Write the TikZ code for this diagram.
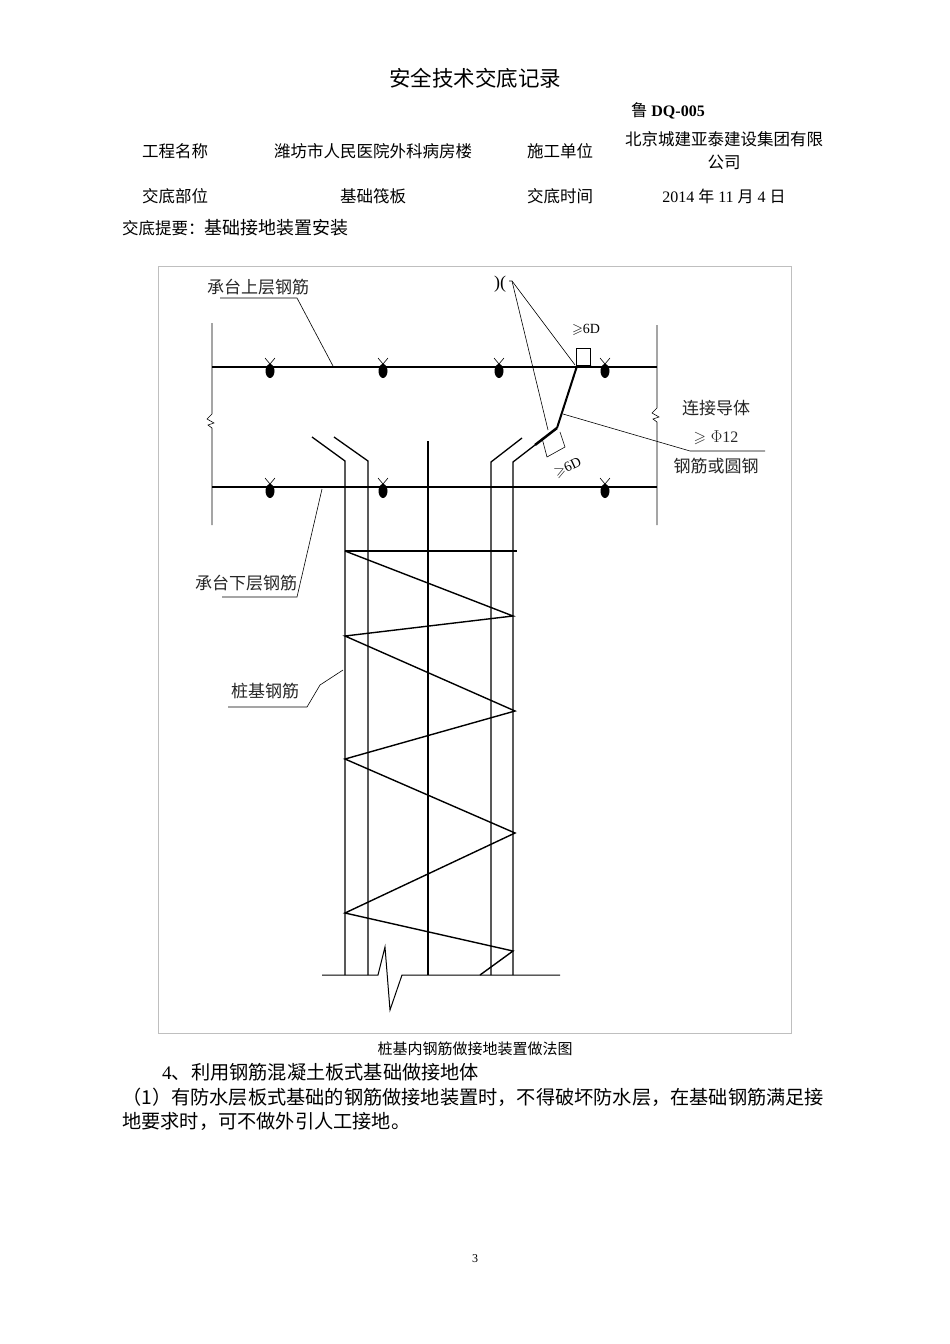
\documentclass[tikz,border=0pt]{standalone}
\usepackage{amssymb}
\usepackage{fontspec}
\setmainfont{Liberation Serif}
\newfontfamily\cjk{Noto Sans CJK SC}
\begin{document}
\begin{tikzpicture}[x=1pt,y=-1pt,
  bar/.style={line width=1.6pt},
  thin/.style={line width=0.6pt},
  dlab/.style={font=\cjk\fontsize{17}{19}\selectfont,inner sep=0pt,text=black!85},
  txt/.style={font=\cjk\fontsize{16.5}{18}\selectfont,inner sep=0pt},
  para/.style={font=\cjk\fontsize{19.2}{21}\selectfont,inner sep=0pt,anchor=west}]
\useasboundingbox (0,0) rectangle (950,1344);
\fill[white] (0,0) rectangle (950,1344);
% header
\node[txt,font=\cjk\fontsize{21.5}{23}\selectfont] (title) at (475,78) {安全技术交底记录};
\node[txt] (code) at (668,111) {鲁 \textbf{\rmfamily\fontsize{16}{18}\selectfont DQ-005}};
\node[txt] (c1) at (175,151) {工程名称};
\node[txt] (c2) at (373,151) {潍坊市人民医院外科病房楼};
\node[txt] (c3) at (560,151) {施工单位};
\node[txt] (c4) at (724,139) {北京城建亚泰建设集团有限};
\node[txt] (c4b) at (724,162) {公司};
\node[txt] (d1) at (175,196) {交底部位};
\node[txt] (d2) at (373,196) {基础筏板};
\node[txt] (d3) at (560,196) {交底时间};
\node[inner sep=0pt,font=\fontsize{16}{18}\selectfont] (d4) at (724,196) {2014 {\cjk 年} 11 {\cjk 月} 4 {\cjk 日}};
\node[txt,anchor=west] (tiyao) at (122,228) {交底提要：{\fontsize{18}{20}\selectfont 基础接地装置安装}};
% frame
\draw[black!25,line width=0.8pt] (158,266) rectangle (791,1033);
% cap edges with breaks
\draw[thin] (212,323) -- (212,414) -- (207,419) -- (214,423) -- (208,425) -- (212,428) -- (212,525);
\draw[thin] (657,325) -- (657,408) -- (652,413) -- (659,417) -- (653,419) -- (657,422) -- (657,525);
% bars
\draw[bar] (212,367) -- (657,367);
\draw[bar] (212,487) -- (657,487);
% dots
\foreach \x in {270,383,499,605}{
  \fill (\x,371) ellipse (4.5 and 7);
  \draw[thin] (\x-5,358) -- (\x,364) -- (\x+5,358);}
\foreach \x in {270,383,605}{
  \fill (\x,491) ellipse (4.5 and 7);
  \draw[thin] (\x-5,478) -- (\x,484) -- (\x+5,478);}
% pile bars
\draw[line width=1.3pt] (312,437) -- (345,461) -- (345,975);
\draw[line width=1.3pt] (334,437) -- (368,461) -- (368,975);
\draw[line width=1.3pt] (428,441) -- (428,975);
\draw[line width=1.3pt] (522,438) -- (491,462) -- (491,975);
\draw[line width=1.3pt] (535,445) -- (513,462) -- (513,975);
\draw[line width=2.5pt] (535,445) -- (557,428);
\draw[line width=2pt] (557,428) -- (577,366) -- (591,366);
% welding boxes
\draw[thin] (576,366) -- (576,348) -- (590,348) -- (590,366);
\draw[thin] (542,438) -- (547,457) -- (565,447) -- (560,432);
% spiral
\draw[bar] (345,551) -- (517,551);
\draw[line width=1.4pt] (345,551) -- (513,616) -- (345,636) -- (515,711) -- (345,759) -- (515,833) -- (345,913) -- (513,951) -- (480,975);
% base line with break
\draw[line width=1pt] (322,975) -- (378,975) -- (385,947) -- (390,1010) -- (402,975) -- (560,975);
% labels
\node[dlab] (l1) at (258,287) {承台上层钢筋};
\draw[thin] (220,298) -- (297,298) -- (333,366);
\node[dlab] (l2) at (246,583) {承台下层钢筋};
\draw[thin] (222,597) -- (297,597) -- (322,489);
\node[dlab] (l3) at (265,691) {桩基钢筋};
\draw[thin] (228,707) -- (307,707) -- (320,685) -- (343,670);
% weld symbol
\node[inner sep=0pt,font=\fontsize{18}{20}\selectfont] (weld) at (500,284) {)(};
\draw[thin] (509,281) -- (512,281) -- (575,365);
\draw[thin] (512,281) -- (548,430);
% connector label
\node[dlab] (l4) at (716,408) {连接导体};
\node[inner sep=0pt,font=\fontsize{16}{18}\selectfont,text=black!85] (l5) at (716,438) {$\geqslant\Phi$12};
\draw[thin] (563,414) -- (690,451) -- (765,451);
\node[dlab] (l6) at (716,466) {钢筋或圆钢};
\node[inner sep=0pt,font=\fontsize{14}{16}\selectfont] (g1) at (586,330) {$\geqslant$6D};
\node[inner sep=0pt,font=\fontsize{14}{16}\selectfont,rotate=25] (g2) at (568,468) {$\geqslant$6D};
% caption & text
\node[txt,font=\cjk\fontsize{15}{17}\selectfont] (cap) at (475,1049) {桩基内钢筋做接地装置做法图};
\node[para] (p0) at (162,1072) {{\rmfamily 4}、利用钢筋混凝土板式基础做接地体};
\node[para] (p1) at (122,1097) {（1）有防水层板式基础的钢筋做接地装置时，不得破坏防水层，在基础钢筋满足接};
\node[para] (p2) at (122,1121) {地要求时，可不做外引人工接地。};
\node[inner sep=0pt,font=\fontsize{12}{14}\selectfont] (pg) at (475,1259) {3};
\end{tikzpicture}
\end{document}
